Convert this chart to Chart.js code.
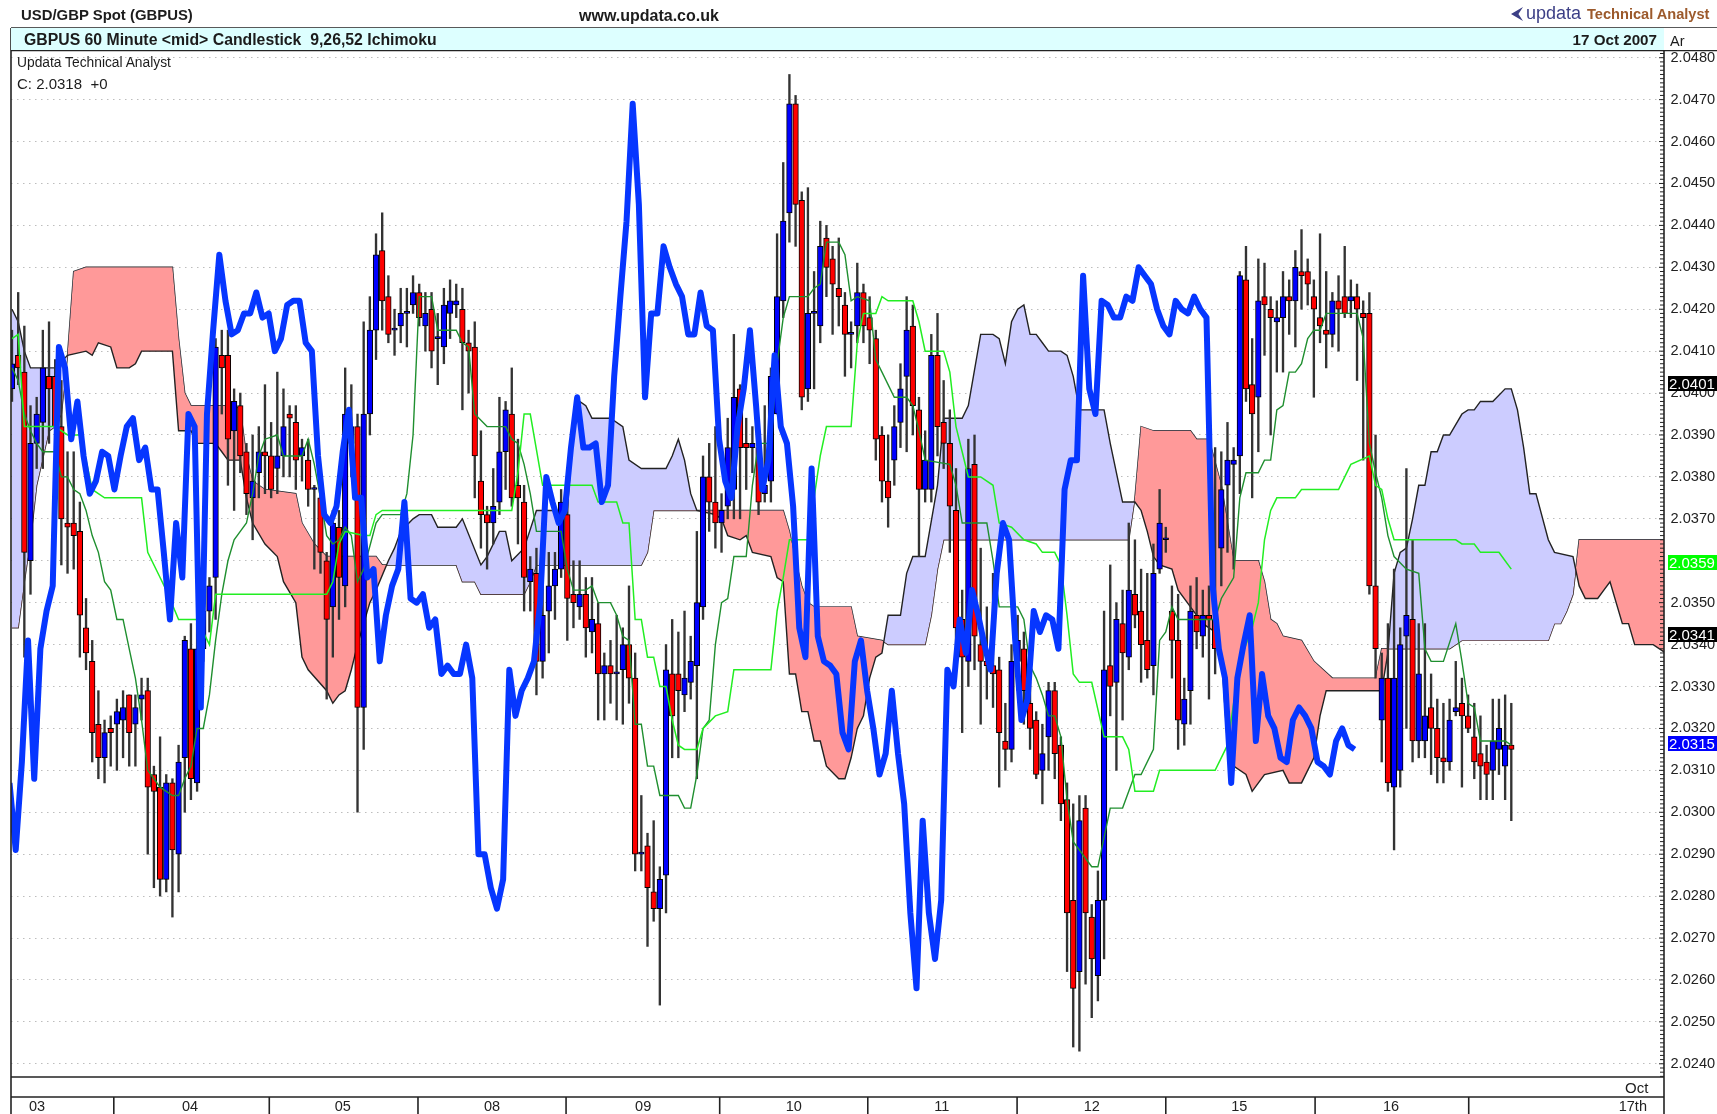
<!DOCTYPE html>
<html>
<head>
<meta charset="utf-8">
<title>GBPUS 60 Minute Ichimoku</title>
<script src="https://cdn.jsdelivr.net/npm/chart.js@4"></script>
<style>
html,body{margin:0;padding:0;background:#fff;width:1717px;height:1114px;overflow:hidden;font-family:"Liberation Sans",Arial,sans-serif;}
#wrap{position:relative;width:1717px;height:1114px;}
canvas{position:absolute;left:0;top:0;}
.t{position:absolute;white-space:pre;color:#1c1c1c;line-height:1;}
.b{font-weight:bold;}
#bar{position:absolute;left:11px;top:28px;width:1653px;height:22px;background:#DDFFFF;}
#hdrR{position:absolute;left:1664px;top:28px;width:53px;height:22px;background:#fff;}
.badge{position:absolute;left:1668px;width:49px;height:15px;line-height:15px;color:#fff;font-size:15px;padding-left:1px;box-sizing:border-box;}
#tri{position:absolute;left:1511px;top:7px;width:12px;height:14px;background:#3c3f86;clip-path:polygon(100% 0,0 50%,100% 100%,62% 50%);}
</style>
</head>
<body>
<div id="wrap">
<canvas id="c" width="1717" height="1114"></canvas>
<div id="bar"></div><div id="hdrR"></div>
<div class="t b" style="left:21px;top:8px;font-size:14.9px">USD/GBP Spot (GBPUS)</div>
<div class="t b" style="left:579px;top:8px;font-size:16px">www.updata.co.uk</div>
<div id="tri"></div>
<div class="t b" style="left:1526px;top:4px;font-size:18px;color:#3c3f86;font-weight:normal">updata</div>
<div class="t b" style="left:1587px;top:7px;font-size:14.6px;color:#9c5a2c">Technical Analyst</div>
<div class="t b" style="left:24px;top:32px;font-size:15.8px">GBPUS 60 Minute &lt;mid&gt; Candlestick  9,26,52 Ichimoku</div>
<div class="t b" style="right:60px;top:32px;font-size:15.2px">17 Oct 2007</div>
<div class="t" style="left:1670px;top:34px;font-size:14.5px">Ar</div>
<div class="t" style="left:17px;top:56px;font-size:13.8px">Updata Technical Analyst</div>
<div class="t" style="left:17px;top:76px;font-size:15px">C: 2.0318  +0</div>
<div class="t" style="left:1625px;top:1080px;font-size:15px">Oct</div>
<div class="badge" style="top:376px;background:#000">2.0401</div>
<div class="badge" style="top:555px;background:#00FF00">2.0359</div>
<div class="badge" style="top:627px;background:#000">2.0341</div>
<div class="badge" style="top:736px;background:#0000FF">2.0315</div>
</div>
<script>
const open=[2.0401,2.0409,2.0405,2.0360,2.0388,2.0393,2.0404,2.0404,2.0392,2.0369,
2.0369,2.0367,2.0344,2.0336,2.0321,2.0313,2.0320,2.0321,2.0322,2.0328,
2.0321,2.0327,2.0329,2.0309,2.0306,2.0284,2.0307,2.0290,2.0313,2.0339,
2.0307,2.0339,2.0348,2.0356,2.0409,2.0409,2.0391,2.0397,2.0386,2.0375,
2.0381,2.0386,2.0385,2.0382,2.0385,2.0395,2.0393,2.0385,2.0384,2.0377,
2.0375,2.0360,2.0349,2.0368,2.0354,2.0388,2.0392,2.0325,2.0395,2.0415,
2.0434,2.0423,2.0415,2.0416,2.0419,2.0421,2.0424,2.0416,2.0420,2.0413,
2.0411,2.0419,2.0421,2.0420,2.0412,2.0411,2.0379,2.0371,2.0369,2.0374,
2.0386,2.0395,2.0378,2.0374,2.0355,2.0357,2.0336,2.0348,2.0354,2.0358,
2.0371,2.0352,2.0349,2.0352,2.0343,2.0345,2.0333,2.0335,2.0333,2.0334,
2.0340,2.0332,2.0290,2.0292,2.0281,2.0277,2.0285,2.0333,2.0333,2.0328,
2.0331,2.0335,2.0349,2.0380,2.0374,2.0369,2.0373,2.0377,2.0401,2.0388,
2.0387,2.0387,2.0376,2.0379,2.0395,2.0422,2.0443,2.0469,2.0446,2.0401,
2.0419,2.0416,2.0437,2.0432,2.0425,2.0421,2.0414,2.0416,2.0424,2.0418,
2.0413,2.0390,2.0379,2.0384,2.0393,2.0404,2.0416,2.0396,2.0377,2.0377,
2.0409,2.0393,2.0388,2.0372,2.0346,2.0336,2.0383,2.0340,2.0336,2.0335,
2.0334,2.0317,2.0315,2.0336,2.0339,2.0326,2.0322,2.0310,2.0318,2.0329,
2.0316,2.0303,2.0279,2.0262,2.0301,2.0275,2.0261,2.0279,2.0335,2.0331,
2.0345,2.0337,2.0352,2.0348,2.0341,2.0335,2.0358,2.0365,2.0348,2.0341,
2.0321,2.0329,2.0347,2.0342,2.0347,2.0346,2.0363,2.0378,2.0383,2.0385,
2.0427,2.0402,2.0399,2.0423,2.0420,2.0417,2.0418,2.0423,2.0422,2.0429,
2.0429,2.0423,2.0418,2.0415,2.0414,2.0422,2.0423,2.0422,2.0423,2.0419,
2.0419,2.0354,2.0322,2.0332,2.0306,2.0310,2.0342,2.0346,2.0317,2.0317,
2.0325,2.0320,2.0313,2.0312,2.0324,2.0326,2.0323,2.0318,2.0314,2.0312,
2.0310,2.0315,2.0311,2.0316];
const high=[2.0415,2.0424,2.0416,2.0397,2.0399,2.0415,2.0417,2.0408,2.0403,2.0386,
2.0386,2.0374,2.0351,2.0341,2.0329,2.0322,2.0323,2.0327,2.0329,2.0328,
2.0328,2.0332,2.0332,2.0311,2.0318,2.0309,2.0308,2.0316,2.0342,2.0345,
2.0345,2.0352,2.0356,2.0413,2.0415,2.0415,2.0401,2.0400,2.0388,2.0390,
2.0392,2.0402,2.0393,2.0405,2.0401,2.0397,2.0397,2.0389,2.0389,2.0378,
2.0378,2.0362,2.0372,2.0372,2.0406,2.0402,2.0395,2.0417,2.0423,2.0438,
2.0443,2.0428,2.0420,2.0425,2.0425,2.0428,2.0426,2.0424,2.0424,2.0419,
2.0425,2.0427,2.0426,2.0425,2.0415,2.0417,2.0391,2.0373,2.0382,2.0399,
2.0398,2.0406,2.0389,2.0378,2.0361,2.0363,2.0355,2.0362,2.0362,2.0377,
2.0377,2.0360,2.0360,2.0356,2.0356,2.0350,2.0338,2.0341,2.0347,2.0344,
2.0354,2.0338,2.0304,2.0295,2.0298,2.0287,2.0340,2.0346,2.0343,2.0348,
2.0342,2.0367,2.0385,2.0388,2.0392,2.0376,2.0394,2.0414,2.0402,2.0394,
2.0392,2.0390,2.0397,2.0406,2.0438,2.0455,2.0476,2.0471,2.0448,2.0449,
2.0429,2.0441,2.0440,2.0435,2.0437,2.0424,2.0417,2.0431,2.0426,2.0423,
2.0415,2.0392,2.0390,2.0397,2.0407,2.0423,2.0421,2.0399,2.0391,2.0414,
2.0419,2.0403,2.0396,2.0382,2.0353,2.0389,2.0390,2.0363,2.0349,2.0357,
2.0337,2.0326,2.0340,2.0347,2.0343,2.0331,2.0324,2.0321,2.0331,2.0331,
2.0318,2.0307,2.0302,2.0304,2.0304,2.0278,2.0286,2.0348,2.0359,2.0350,
2.0353,2.0369,2.0365,2.0358,2.0357,2.0364,2.0377,2.0368,2.0354,2.0352,
2.0332,2.0354,2.0356,2.0353,2.0354,2.0387,2.0386,2.0393,2.0387,2.0429,
2.0435,2.0413,2.0432,2.0431,2.0423,2.0422,2.0429,2.0427,2.0434,2.0439,
2.0432,2.0427,2.0438,2.0429,2.0424,2.0428,2.0435,2.0427,2.0426,2.0422,
2.0424,2.0390,2.0338,2.0345,2.0358,2.0344,2.0382,2.0365,2.0345,2.0345,
2.0333,2.0327,2.0326,2.0327,2.0336,2.0332,2.0328,2.0326,2.0323,2.0316,
2.0327,2.0327,2.0328,2.0326];
const low=[2.0398,2.0402,2.0337,2.0352,2.0382,2.0382,2.0388,2.0388,2.0359,2.0357,
2.0358,2.0337,2.0334,2.0312,2.0308,2.0307,2.0311,2.0310,2.0313,2.0311,
2.0311,2.0322,2.0290,2.0282,2.0280,2.0281,2.0275,2.0281,2.0300,2.0303,
2.0305,2.0336,2.0343,2.0346,2.0395,2.0378,2.0372,2.0381,2.0371,2.0365,
2.0375,2.0376,2.0375,2.0376,2.0380,2.0380,2.0377,2.0379,2.0373,2.0358,
2.0357,2.0327,2.0337,2.0346,2.0349,2.0380,2.0300,2.0315,2.0390,2.0408,
2.0415,2.0412,2.0409,2.0412,2.0411,2.0419,2.0416,2.0410,2.0406,2.0402,
2.0407,2.0413,2.0418,2.0396,2.0400,2.0375,2.0363,2.0358,2.0364,2.0371,
2.0377,2.0373,2.0364,2.0348,2.0348,2.0328,2.0332,2.0338,2.0346,2.0356,
2.0341,2.0344,2.0346,2.0337,2.0338,2.0322,2.0322,2.0326,2.0322,2.0321,
2.0326,2.0286,2.0286,2.0268,2.0274,2.0254,2.0276,2.0313,2.0313,2.0324,
2.0327,2.0308,2.0346,2.0367,2.0363,2.0362,2.0370,2.0370,2.0370,2.0377,
2.0381,2.0371,2.0374,2.0374,2.0395,2.0418,2.0436,2.0435,2.0396,2.0398,
2.0401,2.0412,2.0423,2.0414,2.0416,2.0404,2.0406,2.0412,2.0412,2.0407,
2.0384,2.0374,2.0368,2.0378,2.0387,2.0386,2.0390,2.0361,2.0374,2.0374,
2.0385,2.0382,2.0362,2.0338,2.0319,2.0330,2.0334,2.0321,2.0327,2.0325,
2.0306,2.0310,2.0312,2.0329,2.0321,2.0315,2.0308,2.0302,2.0310,2.0308,
2.0298,2.0262,2.0244,2.0243,2.0259,2.0251,2.0255,2.0265,2.0323,2.0310,
2.0322,2.0334,2.0344,2.0331,2.0332,2.0328,2.0357,2.0362,2.0332,2.0315,
2.0316,2.0321,2.0339,2.0337,2.0327,2.0333,2.0354,2.0362,2.0358,2.0376,
2.0398,2.0375,2.0386,2.0409,2.0390,2.0405,2.0405,2.0414,2.0411,2.0420,
2.0421,2.0399,2.0412,2.0406,2.0411,2.0410,2.0418,2.0418,2.0403,2.0384,
2.0352,2.0332,2.0312,2.0305,2.0291,2.0306,2.0320,2.0312,2.0313,2.0313,
2.0309,2.0307,2.0307,2.0310,2.0323,2.0306,2.0319,2.0308,2.0303,2.0303,
2.0303,2.0309,2.0303,2.0298];
const close=[2.0407,2.0406,2.0362,2.0388,2.0395,2.0406,2.0401,2.0392,2.0370,2.0368,
2.0366,2.0347,2.0338,2.0319,2.0313,2.0319,2.0319,2.0324,2.0325,2.0319,
2.0325,2.0328,2.0306,2.0305,2.0284,2.0307,2.0291,2.0312,2.0341,2.0308,
2.0339,2.0348,2.0354,2.0411,2.0406,2.0389,2.0398,2.0385,2.0376,2.0379,
2.0386,2.0385,2.0377,2.0385,2.0392,2.0394,2.0384,2.0387,2.0377,2.0377,
2.0362,2.0346,2.0369,2.0356,2.0395,2.0392,2.0325,2.0395,2.0415,2.0433,
2.0422,2.0414,2.0415,2.0419,2.0419,2.0424,2.0418,2.0419,2.0410,2.0413,
2.0421,2.0422,2.0422,2.0412,2.0410,2.0385,2.0371,2.0369,2.0373,2.0386,
2.0396,2.0375,2.0375,2.0356,2.0358,2.0336,2.0347,2.0354,2.0358,2.0374,
2.0351,2.0350,2.0352,2.0344,2.0346,2.0333,2.0335,2.0333,2.0333,2.0340,
2.0332,2.0290,2.0290,2.0282,2.0277,2.0284,2.0334,2.0323,2.0329,2.0332,
2.0336,2.0350,2.0380,2.0374,2.0369,2.0372,2.0387,2.0399,2.0387,2.0387,
2.0388,2.0374,2.0378,2.0404,2.0423,2.0441,2.0469,2.0445,2.0399,2.0419,
2.0419,2.0435,2.0430,2.0426,2.0423,2.0414,2.0414,2.0424,2.0416,2.0415,
2.0389,2.0379,2.0375,2.0392,2.0401,2.0415,2.0397,2.0377,2.0384,2.0409,
2.0392,2.0388,2.0373,2.0344,2.0337,2.0382,2.0342,2.0336,2.0335,2.0333,
2.0319,2.0315,2.0336,2.0341,2.0329,2.0320,2.0309,2.0314,2.0329,2.0314,
2.0302,2.0276,2.0258,2.0298,2.0276,2.0265,2.0279,2.0334,2.0330,2.0346,
2.0338,2.0353,2.0347,2.0340,2.0334,2.0357,2.0369,2.0365,2.0341,2.0322,
2.0327,2.0348,2.0343,2.0347,2.0346,2.0339,2.0377,2.0384,2.0384,2.0428,
2.0401,2.0395,2.0422,2.0421,2.0418,2.0418,2.0423,2.0422,2.0430,2.0428,
2.0426,2.0420,2.0416,2.0414,2.0422,2.0420,2.0419,2.0423,2.0420,2.0418,
2.0354,2.0339,2.0332,2.0307,2.0332,2.0340,2.0347,2.0317,2.0333,2.0323,
2.0320,2.0313,2.0312,2.0322,2.0325,2.0323,2.0320,2.0312,2.0311,2.0309,
2.0317,2.0320,2.0316,2.0315];

// thick blue lagging line, read bar by bar, first vertex at chikouFirstBar
const chikouFirstBar=-0.4;
const chikou=[2.0307,2.0291,2.0312,2.0341,2.0308,
2.0339,2.0348,2.0354,2.0411,2.0406,2.0389,2.0398,2.0385,2.0376,2.0379,
2.0386,2.0385,2.0377,2.0385,2.0392,2.0394,2.0384,2.0387,2.0377,2.0377,
2.0362,2.0346,2.0369,2.0356,2.0395,2.0392,2.0325,2.0395,2.0415,2.0433,
2.0422,2.0414,2.0415,2.0419,2.0419,2.0424,2.0418,2.0419,2.0410,2.0413,
2.0421,2.0422,2.0422,2.0412,2.0410,2.0385,2.0371,2.0369,2.0373,2.0386,
2.0396,2.0375,2.0375,2.0356,2.0358,2.0336,2.0347,2.0354,2.0358,2.0374,
2.0351,2.0350,2.0352,2.0344,2.0346,2.0333,2.0335,2.0333,2.0333,2.0340,
2.0332,2.0290,2.0290,2.0282,2.0277,2.0284,2.0334,2.0323,2.0329,2.0332,
2.0336,2.0350,2.0380,2.0374,2.0369,2.0372,2.0387,2.0399,2.0387,2.0387,
2.0388,2.0374,2.0378,2.0404,2.0423,2.0441,2.0469,2.0445,2.0399,2.0419,
2.0419,2.0435,2.0430,2.0426,2.0423,2.0414,2.0414,2.0424,2.0416,2.0415,
2.0389,2.0379,2.0375,2.0392,2.0401,2.0415,2.0397,2.0377,2.0384,2.0409,
2.0392,2.0388,2.0373,2.0344,2.0337,2.0382,2.0342,2.0336,2.0335,2.0333,
2.0319,2.0315,2.0336,2.0341,2.0329,2.0320,2.0309,2.0314,2.0329,2.0314,
2.0302,2.0276,2.0258,2.0298,2.0276,2.0265,2.0279,2.0334,2.0330,2.0346,
2.0338,2.0353,2.0347,2.0340,2.0334,2.0357,2.0369,2.0365,2.0341,2.0322,
2.0327,2.0348,2.0343,2.0347,2.0346,2.0339,2.0377,2.0384,2.0384,2.0428,
2.0401,2.0395,2.0422,2.0421,2.0418,2.0418,2.0423,2.0422,2.0430,2.0428,
2.0426,2.0420,2.0416,2.0414,2.0422,2.0420,2.0419,2.0423,2.0420,2.0418,
2.0354,2.0339,2.0332,2.0307,2.0332,2.0340,2.0347,2.0317,2.0333,2.0323,
2.0320,2.0313,2.0312,2.0322,2.0325,2.0323,2.0320,2.0312,2.0311,2.0309,
2.0317,2.0320,2.0316,2.0315];

const tenkanBars=[0,1,2,3,4,5,7,8,9,10,11,12,13,14,15,16,17,18,19,20,21,22,23,24,25,26,27,28,29,30,31,32,33,34,35,36,37,38,39,40,41,43,44,47,48,49,50,51,52,53,54,55,56,57,59,60,63,64,65,66,68,69,72,73,74,75,77,80,81,82,83,84,85,89,90,91,93,94,95,97,98,99,100,101,102,103,104,105,108,109,110,111,112,113,114,115,116,117,119,120,121,123,124,125,126,129,130,131,132,134,135,136,137,139,140,141,143,145,146,147,148,152,153,154,158,159,160,163,164,165,166,167,168,169,170,171,172,173,175,176,177,178,180,182,183,185,186,187,188,189,195,196,198,199,200,202,203,204,205,206,207,208,209,210,211,212,213,218,219,220,221,222,223,224,226,228,229,230,232,234,235,236,237,238,242,243];
const tenkanVals=[2.0406,2.0403,2.0395,2.0391,2.0388,2.0386,2.0386,2.0380,2.0380,2.0377,2.0376,2.0372,2.0366,2.0362,2.0355,2.0353,2.0346,2.0346,2.0339,2.0332,2.0322,2.0310,2.0308,2.0306,2.0305,2.0304,2.0304,2.0308,2.0311,2.0320,2.0320,2.0328,2.0341,2.0352,2.0360,2.0365,2.0367,2.0369,2.0376,2.0385,2.0389,2.0390,2.0385,2.0385,2.0389,2.0383,2.0375,2.0366,2.0364,2.0365,2.0368,2.0366,2.0355,2.0358,2.0369,2.0371,2.0371,2.0376,2.0390,2.0423,2.0423,2.0415,2.0415,2.0412,2.0411,2.0395,2.0392,2.0392,2.0389,2.0388,2.0383,2.0376,2.0367,2.0367,2.0358,2.0353,2.0353,2.0354,2.0350,2.0350,2.0347,2.0342,2.0341,2.0321,2.0321,2.0311,2.0311,2.0304,2.0304,2.0301,2.0301,2.0309,2.0320,2.0322,2.0340,2.0350,2.0351,2.0361,2.0361,2.0378,2.0388,2.0388,2.0407,2.0418,2.0423,2.0423,2.0425,2.0426,2.0436,2.0436,2.0433,2.0422,2.0423,2.0422,2.0408,2.0405,2.0399,2.0399,2.0397,2.0391,2.0384,2.0383,2.0378,2.0369,2.0369,2.0360,2.0349,2.0349,2.0346,2.0335,2.0332,2.0328,2.0323,2.0323,2.0318,2.0303,2.0293,2.0291,2.0287,2.0287,2.0294,2.0301,2.0301,2.0309,2.0309,2.0315,2.0341,2.0343,2.0349,2.0346,2.0346,2.0351,2.0356,2.0375,2.0381,2.0381,2.0384,2.0384,2.0396,2.0397,2.0405,2.0405,2.0407,2.0413,2.0415,2.0415,2.0419,2.0419,2.0413,2.0388,2.0381,2.0375,2.0366,2.0361,2.0358,2.0357,2.0339,2.0336,2.0336,2.0345,2.0336,2.0326,2.0325,2.0317,2.0317,2.0316];

const kijunBars=[0,1,2,7,9,11,12,13,15,21,22,24,25,27,30,32,33,51,52,53,54,57,58,59,60,81,82,83,84,86,94,95,98,99,100,101,102,103,104,105,106,107,108,109,111,112,114,116,117,123,124,125,126,129,130,131,132,136,137,138,140,141,142,146,147,148,151,152,153,154,155,157,159,160,162,164,166,167,169,170,171,172,173,175,177,180,181,182,185,186,195,197,199,201,202,203,204,205,208,209,215,217,220,221,222,223,224,234,235,237,238,241,242,243];
const kijunVals=[2.0413,2.0414,2.0392,2.0392,2.0390,2.0390,2.0384,2.0377,2.0375,2.0375,2.0362,2.0356,2.0353,2.0346,2.0346,2.0340,2.0352,2.0352,2.0355,2.0364,2.0367,2.0366,2.0366,2.0371,2.0372,2.0372,2.0381,2.0395,2.0395,2.0378,2.0378,2.0374,2.0374,2.0369,2.0369,2.0346,2.0346,2.0337,2.0337,2.0330,2.0330,2.0322,2.0316,2.0315,2.0315,2.0320,2.0323,2.0324,2.0334,2.0334,2.0348,2.0356,2.0365,2.0365,2.0375,2.0385,2.0392,2.0392,2.0412,2.0419,2.0419,2.0423,2.0422,2.0422,2.0417,2.0410,2.0410,2.0405,2.0392,2.0386,2.0380,2.0380,2.0378,2.0369,2.0368,2.0365,2.0364,2.0362,2.0362,2.0359,2.0347,2.0333,2.0331,2.0331,2.0318,2.0318,2.0315,2.0305,2.0305,2.0310,2.0310,2.0316,2.0336,2.0344,2.0350,2.0365,2.0372,2.0375,2.0375,2.0377,2.0377,2.0383,2.0385,2.0378,2.0377,2.0370,2.0365,2.0365,2.0364,2.0364,2.0362,2.0362,2.0360,2.0358];

const senkouABars=[0,1,2,3,7,9,12,13,14,16,17,19,20,21,26,27,29,30,33,34,35,37,38,39,41,43,44,46,47,48,51,52,53,54,55,56,58,59,61,62,63,65,66,68,69,72,73,76,77,79,80,81,83,85,90,91,92,93,94,97,99,100,102,106,107,108,109,110,111,114,115,116,118,119,120,123,124,125,126,127,128,129,130,131,132,134,135,136,137,138,139,140,141,142,144,145,146,148,150,151,154,155,157,159,160,161,162,163,164,165,166,167,168,170,171,172,173,177,178,180,182,183,184,185,186,188,189,191,193,195,196,197,198,200,201,203,206,207,209,211,212,213,221,222,223,224,225,226,227,228,229,230,231,232,233,235,236,237,238,240,242,243,244,245,246,247,249,250,253,254,255,257,258,259,261,262,263,266,268];
const senkouAVals=[2.0420,2.0417,2.0410,2.0406,2.0406,2.0409,2.0410,2.0409,2.0412,2.0411,2.0406,2.0406,2.0407,2.0410,2.0410,2.0391,2.0391,2.0388,2.0388,2.0386,2.0384,2.0384,2.0375,2.0369,2.0364,2.0361,2.0355,2.0350,2.0337,2.0334,2.0329,2.0326,2.0328,2.0329,2.0334,2.0340,2.0350,2.0353,2.0360,2.0363,2.0367,2.0370,2.0371,2.0371,2.0368,2.0368,2.0370,2.0359,2.0361,2.0367,2.0367,2.0360,2.0363,2.0372,2.0372,2.0392,2.0398,2.0397,2.0394,2.0394,2.0392,2.0384,2.0382,2.0382,2.0385,2.0389,2.0384,2.0376,2.0372,2.0371,2.0370,2.0366,2.0365,2.0366,2.0362,2.0361,2.0356,2.0355,2.0333,2.0333,2.0324,2.0324,2.0317,2.0317,2.0311,2.0308,2.0308,2.0313,2.0320,2.0323,2.0332,2.0337,2.0338,2.0347,2.0347,2.0357,2.0361,2.0361,2.0378,2.0394,2.0394,2.0397,2.0414,2.0414,2.0413,2.0407,2.0417,2.0420,2.0421,2.0414,2.0414,2.0412,2.0410,2.0410,2.0409,2.0404,2.0396,2.0396,2.0388,2.0374,2.0374,2.0372,2.0367,2.0361,2.0359,2.0358,2.0353,2.0349,2.0345,2.0343,2.0338,2.0316,2.0311,2.0309,2.0305,2.0309,2.0310,2.0307,2.0307,2.0313,2.0323,2.0329,2.0329,2.0329,2.0338,2.0357,2.0362,2.0363,2.0370,2.0378,2.0378,2.0386,2.0386,2.0390,2.0390,2.0395,2.0396,2.0396,2.0398,2.0398,2.0401,2.0401,2.0396,2.0387,2.0376,2.0376,2.0365,2.0362,2.0361,2.0354,2.0351,2.0351,2.0353,2.0355,2.0345,2.0345,2.0340,2.0340,2.0338];

const senkouBBars=[0,1,2,3,4,6,7,8,9,10,12,26,27,28,29,36,37,38,39,41,46,47,49,51,59,60,72,73,75,76,83,84,85,102,103,104,125,126,127,128,129,130,136,137,141,142,148,149,150,151,181,182,183,185,191,192,194,196,198,202,203,204,205,206,209,211,214,221,222,233,235,249,250,251,252,253,254,268];
const senkouBVals=[2.0344,2.0344,2.0355,2.0365,2.0378,2.0391,2.0392,2.0395,2.0409,2.0429,2.0430,2.0430,2.0413,2.0400,2.0397,2.0397,2.0396,2.0385,2.0379,2.0377,2.0376,2.0369,2.0364,2.0361,2.0361,2.0359,2.0359,2.0355,2.0355,2.0352,2.0352,2.0355,2.0359,2.0359,2.0362,2.0372,2.0372,2.0367,2.0360,2.0354,2.0350,2.0349,2.0349,2.0342,2.0341,2.0340,2.0340,2.0347,2.0358,2.0365,2.0365,2.0375,2.0392,2.0391,2.0391,2.0389,2.0389,2.0378,2.0360,2.0360,2.0355,2.0346,2.0345,2.0342,2.0341,2.0336,2.0332,2.0332,2.0339,2.0339,2.0341,2.0341,2.0345,2.0345,2.0348,2.0352,2.0365,2.0365];

const priceTicks=[];for(let k=20237;k<=20481;k++)priceTicks.push(k);
const dayBreaks=[16.5,41.7,65.8,89.8,114.7,138.7,162.9,187,211.2,236.1];
const dayLabelBars=[4.05,28.85,53.6,77.8,102.3,126.7,150.7,175,198.9,223.5,262.7];
const dayLabels=["03","04","05","08","09","10","11","12","15","16","17th"];

const pts=(xs,ys)=>xs.map((x,i)=>({x,y:ys[i]}));
const bars=open.map((_,i)=>i);
const upColor='#0000FF',downColor='#FF0000';

const frame={id:'frame',afterDraw(chart){
  const c=chart.ctx,a=chart.chartArea,xs=chart.scales.x,ys=chart.scales.y;
  c.save();
  c.strokeStyle='#222';c.lineWidth=1;
  ys.ticks.forEach(t=>{const y=ys.getPixelForValue(t.value);const big=Math.round(t.value*1e4)%10===0;
    c.beginPath();c.moveTo(a.right-(big?5:4),y);c.lineTo(a.right,y);c.stroke();});
  c.lineWidth=1.6;c.strokeStyle='#222';
  const line=(x1,y1,x2,y2)=>{c.beginPath();c.moveTo(x1,y1);c.lineTo(x2,y2);c.stroke();};
  line(a.left,28,a.left,chart.height);
  line(a.right,28,a.right,chart.height);
  line(a.left,28,chart.width,28);
  line(a.left,50.5,chart.width,50.5);
  line(a.left,a.bottom,a.right,a.bottom);
  line(a.left,a.bottom+20,a.right,a.bottom+20);
  dayBreaks.forEach(v=>{const x=xs.getPixelForValue(v);line(x,a.bottom+20,x,chart.height);});
  c.restore();
}};

new Chart(document.getElementById('c'),{
  type:'bar',
  data:{datasets:[
    {type:'line',label:'Senkou A',data:pts(senkouABars,senkouAVals),borderColor:'#222',borderWidth:1.4,pointRadius:0,tension:0,order:9,
     fill:{target:1,above:'#CCCCFF',below:'#FF9999'}},
    {type:'line',label:'Senkou B',data:pts(senkouBBars,senkouBVals),borderColor:'#222',borderWidth:1.4,pointRadius:0,tension:0,order:9,fill:false},
    {type:'bar',label:'Range',data:bars.map(i=>({x:i,y:[low[i],high[i]]})),grouped:false,barThickness:1.7,backgroundColor:'#333',borderWidth:0,order:6},
    {type:'bar',label:'Body',data:bars.map(i=>({x:i,y:[open[i],close[i]]})),grouped:false,barThickness:5.6,minBarLength:2,
     backgroundColor:bars.map(i=>close[i]<open[i]?downColor:upColor),borderColor:'#000',borderWidth:1,borderSkipped:false,order:5},
    {type:'line',label:'Tenkan',data:pts(tenkanBars,tenkanVals),borderColor:'#1F8F2F',borderWidth:1.4,pointRadius:0,tension:0,fill:false,order:4},
    {type:'line',label:'Kijun',data:pts(kijunBars,kijunVals),borderColor:'#22EE22',borderWidth:1.5,pointRadius:0,tension:0,fill:false,order:3},
    {type:'line',label:'Chikou',data:chikou.map((v,k)=>({x:chikouFirstBar+k,y:v})),borderColor:'#0636FF',borderWidth:6,pointRadius:0,tension:0,fill:false,order:1,borderJoinStyle:'round'}
  ]},
  options:{
    responsive:false,animation:false,
    layout:{padding:{left:11,top:51,right:0,bottom:0}},
    plugins:{legend:{display:false},tooltip:{enabled:false},title:{display:false},filler:{propagate:false}},
    scales:{
      x:{type:'linear',offset:false,min:-0.162,max:267.75,position:'bottom',
        grid:{display:false,drawTicks:false},border:{display:false},
        afterBuildTicks(s){s.ticks=dayLabelBars.map(v=>({value:v}));},
        afterFit(s){s.height=37;},
        ticks:{autoSkip:false,maxRotation:0,minRotation:0,padding:21,color:'#222',font:{family:'"Liberation Sans"',size:14.5},
          callback:(v,i)=>dayLabels[i]}},
      y:{type:'linear',position:'right',min:2.023685,max:2.04816,
        afterBuildTicks(s){s.ticks=priceTicks.map(k=>({value:k/1e4}));},
        afterFit(s){s.width=53;},
        grid:{drawTicks:false,lineWidth:1,color:c=>Math.round(c.tick.value*1e4)%10===0?'#bdbdbd':'rgba(0,0,0,0)'},
        border:{display:false,dash:[1.5,4.5]},
        ticks:{autoSkip:false,padding:6.5,color:'#222',align:'center',font:{family:'"Liberation Sans"',size:14.6},
          callback:v=>Math.round(v*1e4)%10===0?v.toFixed(4):''}}
    }
  },
  plugins:[frame]
});
</script>
</body>
</html>
